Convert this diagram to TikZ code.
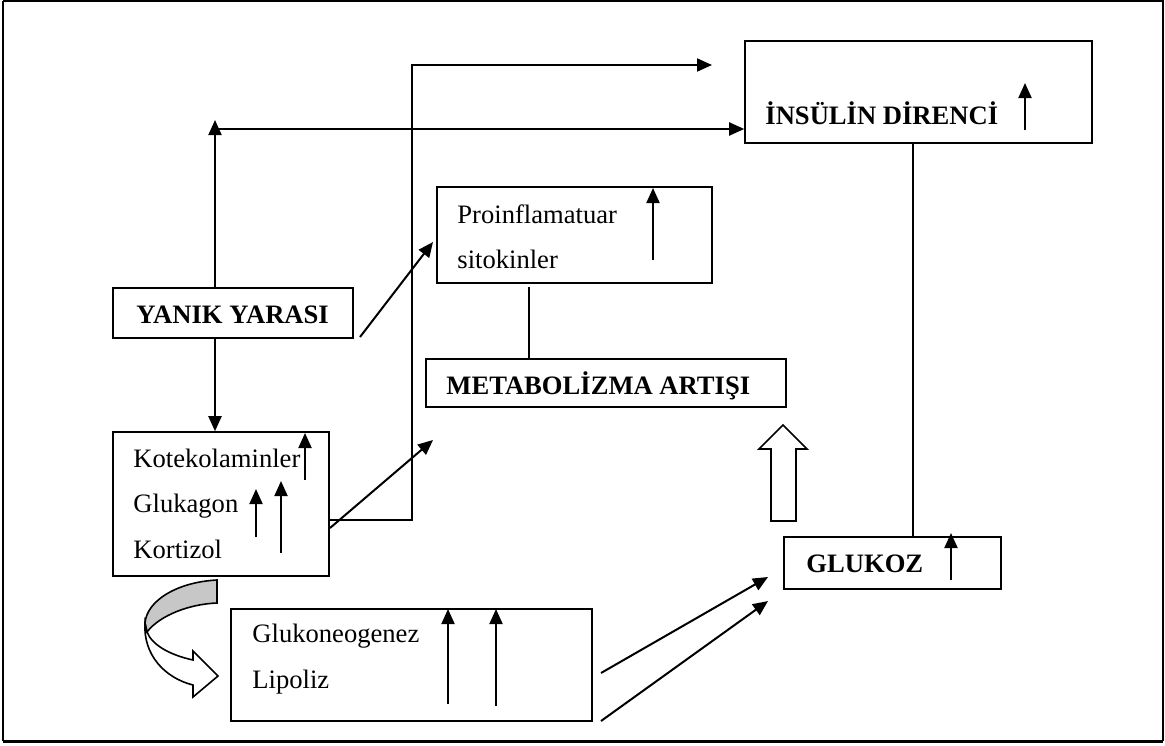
\documentclass[tikz,border=0pt]{standalone}
\usepackage{fontspec}
\setmainfont{Liberation Serif}
\usetikzlibrary{arrows.meta,fit}
\begin{document}
\begin{tikzpicture}[x=0.5pt,y=-0.5pt,
  box/.style={draw,line width=0.8pt,inner sep=0pt,rectangle},
  lbl/.style={anchor=base west,inner sep=0pt,font=\fontsize{13.3}{16}\selectfont},
  blbl/.style={lbl,font=\fontsize{13.3}{16}\selectfont\bfseries},
  arr/.style={line width=1pt,-{Triangle[length=7.5pt,width=6.5pt]}},
  ln/.style={line width=1pt},
  upar/.style={line width=1pt,-{Triangle[length=7.5pt,width=6.5pt]}}]
\useasboundingbox (0,0) rectangle (1165,745);
\draw[line width=0.8pt] (3,1) -- (1163,1) -- (1163,741);
\draw[line width=0.8pt] (3,1) -- (3,741);
\draw[line width=1.5pt] (3,741) -- (1163,741);

% boxes
\node[box,fit={(745,41) (1092,143)}] (insulin) {};
\node[box,fit={(113,288) (353,338)}] (yanik) {};
\node[box,fit={(437,187) (712,283)}] (proinf) {};
\node[box,fit={(426,359) (786,407)}] (metab) {};
\node[box,fit={(113,432) (329,576)}] (kote) {};
\node[box,fit={(784,537) (1001,589)}] (glukoz) {};
\node[box,fit={(231,609) (592,721)}] (gluko) {};

% texts
\node[blbl] (tins) at (765,124) {İNSÜLİN DİRENCİ};
\node[blbl] (tyan) at (136,323) {YANIK YARASI};
\node[lbl] (tpro1) at (457,223) {Proinflamatuar};
\node[lbl] (tpro2) at (457,268) {sitokinler};
\node[blbl] (tmet) at (446,394) {METABOLİZMA ARTIŞI};
\node[lbl] (tk1) at (133,467) {Kotekolaminler};
\node[lbl] (tk2) at (133,512) {Glukagon};
\node[lbl] (tk3) at (133,558) {Kortizol};
\node[blbl] (tglz) at (806,572) {GLUKOZ};
\node[lbl] (tg1) at (252,642) {Glukoneogenez};
\node[lbl] (tg2) at (252,688) {Lipoliz};

% small up arrows
\draw[upar] (1025,130) -- (1025,83);
\draw[upar] (653,260) -- (653,188);
\draw[upar] (305,480) -- (305,433);
\draw[upar] (256,537) -- (256,489);
\draw[upar] (281,553) -- (281,481);
\draw[upar] (951,580) -- (951,533);
\draw[upar] (448,704) -- (448,609);
\draw[upar] (496,706) -- (496,609);

% connectors
\coordinate (upTip) at (215,120);
\coordinate (hStart) at (215,129);
\draw[arr] (yanik.north -| upTip) -- (upTip);
\draw[arr] (hStart) -- (insulin.west |- hStart);
\draw[arr] (yanik.south -| upTip) -- (kote.north -| upTip);

\coordinate (kOut) at (329,520);
\coordinate (bend1) at (412,520);
\coordinate (bend2) at (412,65);
\coordinate (topTip) at (712,65);
\draw[arr] (kOut) -- (bend1) -- (bend2) -- (topTip);

\coordinate (kDiag) at (330,528);
\coordinate (kDiagTip) at (433,440);
\draw[arr] (kDiag) -- (kDiagTip);

\coordinate (yDiag) at (360,337);
\coordinate (yDiagTip) at (433,242);
\draw[arr] (yDiag) -- (yDiagTip);

\coordinate (pBot) at (529,287);
\draw[ln] (pBot) -- (metab.north -| pBot);

\coordinate (iBot) at (913,143);
\draw[ln] (insulin.south -| iBot) -- (glukoz.north -| iBot);

\coordinate (g1s) at (601,673);
\coordinate (g1e) at (768,577);
\coordinate (g2s) at (601,721);
\coordinate (g2e) at (768,601);
\draw[arr] (g1s) -- (g1e);
\draw[arr] (g2s) -- (g2e);

% hollow up arrow
\draw[line width=0.8pt,fill=white] (771,521) -- (771,449) -- (759,449) -- (783,425) -- (807,449) -- (796,449) -- (796,521) -- cycle;

% curved arrow
\draw[line width=0.8pt,fill=black!22] (217,580) .. controls (178,582) and (147,600) .. (145,623) -- (147,632) .. controls (160,615) and (190,604) .. (217,603) -- cycle;
\draw[line width=0.8pt,fill=white] (145,623) .. controls (143,655) and (165,678) .. (193,685) -- (193,697) -- (218,676) -- (193,651) -- (193,660) .. controls (170,655) and (152,645) .. (147,632) -- cycle;
\end{tikzpicture}
\end{document}
